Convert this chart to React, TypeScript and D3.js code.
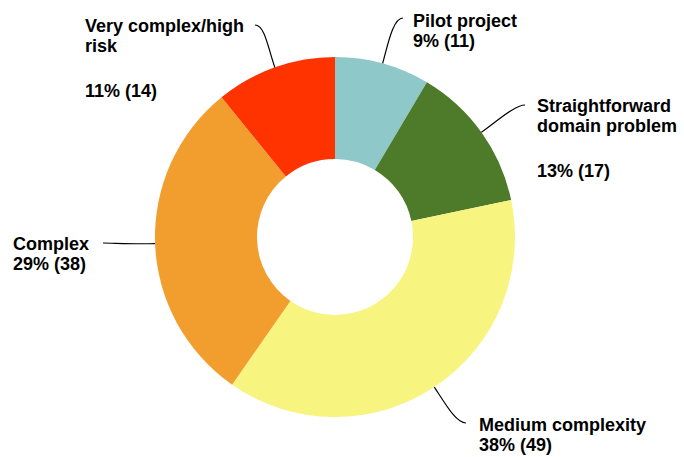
import React from "react";
import * as d3 from "d3";

const categories = [
  "Pilot project",
  "Straightforward domain problem",
  "Medium complexity",
  "Complex",
  "Very complex/high risk",
];
const counts = [11, 17, 49, 38, 14];
const colors = ["#8EC8C9", "#4E7B2A", "#F7F47F", "#F29E2E", "#FF3300"];
// label line splits (text content, as in the reference)
const labelLines: string[][] = [
  ["Pilot project"],
  ["Straightforward", "domain problem", ""],
  ["Medium complexity"],
  ["Complex"],
  ["Very complex/high", "risk", ""],
];

// layout (label placement)
const W = 684, H = 457;
const cx = 335, cy = 237, rOuter = 180, rInner = 78;
const labelLayout = [
  { tx: 413, ty: 26.5, ex: 403, ey: 18, side: 1 },
  { tx: 537, ty: 111.5, ex: 525, ey: 105, side: 1 },
  { tx: 479, ty: 431, ex: 466, ey: 423, side: 1 },
  { tx: 13, ty: 250, ex: 103, ey: 243, side: -1 },
  { tx: 85, ty: 31.5, ex: 255, ey: 25, side: -1 },
];

export default function App() {
  const total = d3.sum(counts);
  const pie = d3.pie<number>().sort(null).value((d) => d)(counts);
  const arc = d3.arc<d3.PieArcDatum<number>>().innerRadius(rInner).outerRadius(rOuter);
  return (
    <svg width={W} height={H} style={{ position: "absolute", left: 0, top: 0 }} fontFamily="'Liberation Sans', Arial, sans-serif">
      <rect width={W} height={H} fill="#fff" />
      <g transform={`translate(${cx},${cy})`}>
        {pie.map((p, i) => (
          <path key={i} d={arc(p) || ""} fill={colors[i]} aria-label={categories[i]} />
        ))}
      </g>
      {pie.map((p, i) => {
        const a = (p.startAngle + p.endAngle) / 2;
        const dx = Math.sin(a), dy = -Math.cos(a);
        const sx = cx + rOuter * dx, sy = cy + rOuter * dy;
        const L = labelLayout[i];
        const path = d3.path();
        path.moveTo(sx, sy);
        path.bezierCurveTo(sx + dx * 20, sy + dy * 20, L.ex - L.side * 10, L.ey, L.ex, L.ey);
        const pct = Math.round((counts[i] / total) * 100);
        const lines = [...labelLines[i], `${pct}% (${counts[i]})`];
        let y = L.ty;
        return (
          <g key={i}>
            <path d={path.toString()} fill="none" stroke="#000" strokeWidth={1.2} />
            <text x={L.tx} fontSize={18} fontWeight="bold" fill="#000">
              {lines.map((ln, j) => {
                const yy = y;
                y += ln === "" ? 25 : 20;
                return (
                  <tspan key={j} x={L.tx} y={yy}>
                    {ln}
                  </tspan>
                );
              })}
            </text>
          </g>
        );
      })}
    </svg>
  );
}
